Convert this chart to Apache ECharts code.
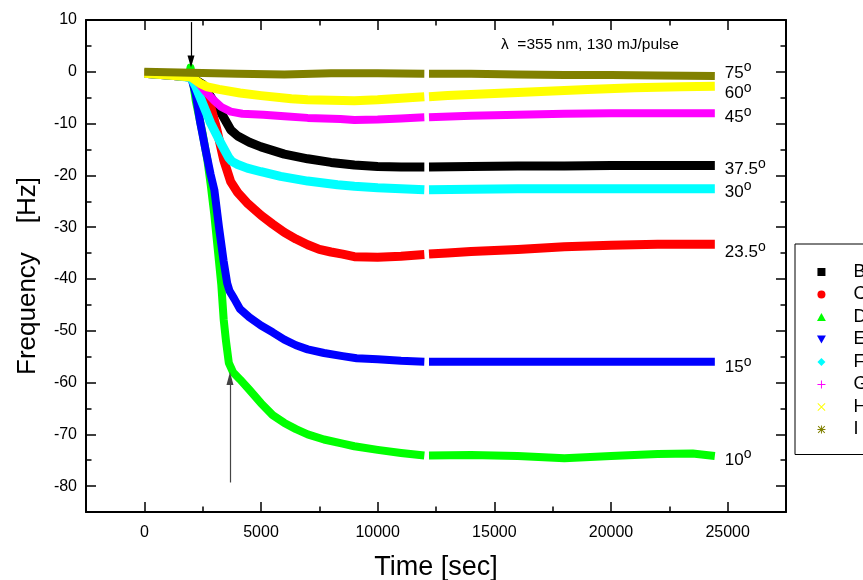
<!DOCTYPE html>
<html><head><meta charset="utf-8">
<script src="https://cdn.jsdelivr.net/npm/echarts@6/dist/echarts.min.js"></script>
<style>html,body{margin:0;padding:0;background:#fff}#c{width:863px;height:580px}</style>
</head><body><div id="c"></div>
<script>
// ---------- data ----------
const seriesNames = ['B','C','D','E','F','G','H','I'];
const angleLabels = ['37.5','23.5','10','15','30','45','60','75'];

const timeB = [0,1000,2000,2500,2840,3000,3300,3700,4000,4500,5000,6000,7000,8000,9000,10000,11000,12000,12100,12200,14000,16000,18000,20000,22000,24450];
const freqB = [-0.3,-0.6,-1.0,-2.4,-4.8,-6.0,-8.0,-11.2,-12.4,-13.6,-14.5,-15.9,-16.8,-17.5,-18.0,-18.3,-18.4,-18.4,'-',-18.4,-18.3,-18.2,-18.2,-18.1,-18.1,-18.1];

const timeC = [0,1000,2000,2500,2800,3100,3400,3700,4000,4400,5000,5500,6000,6500,7000,7500,8000,8500,9000,10000,11000,12000,12100,12200,13000,14000,16000,18000,20000,22000,24450];
const freqC = [-0.3,-0.6,-1.0,-3.5,-6.0,-11.0,-17.0,-21.2,-23.3,-25.3,-27.7,-29.4,-31.0,-32.3,-33.4,-34.3,-34.8,-35.2,-35.7,-35.8,-35.6,-35.3,'-',-35.2,-35.0,-34.7,-34.3,-33.8,-33.5,-33.3,-33.3];

const timeD = [0,1000,1900,1980,2060,2200,2500,2700,2850,3000,3150,3300,3400,3500,3620,3800,4100,4500,5000,5500,6000,6500,7000,7700,8500,9000,10000,11000,12000,12100,12200,14000,16000,18000,20000,22000,23500,24450];
const freqD = [-0.3,-0.6,-0.9,0.8,-1.2,-5.5,-12.0,-17.0,-22.0,-27.6,-34.4,-41.2,-47.8,-52.0,-56.2,-58.0,-59.4,-61.4,-64.0,-66.3,-67.8,-69.0,-70.0,-71.0,-71.8,-72.3,-73.0,-73.6,-74.1,'-',-74.1,-74.0,-74.2,-74.6,-74.2,-73.8,-73.7,-74.2];

const timeE = [0,1000,2000,2200,2400,2620,2840,3000,3200,3400,3550,3650,3850,4100,4500,5000,5500,6000,6500,7000,7700,8500,9100,10000,11000,12000,12100,12200,14000,16000,18000,20000,22000,24450];
const freqE = [-0.3,-0.6,-1.0,-4.2,-9.9,-15.0,-19.8,-22.8,-30.0,-36.6,-40.8,-42.3,-43.8,-45.8,-47.4,-49.0,-50.3,-51.7,-52.8,-53.6,-54.3,-54.9,-55.3,-55.5,-55.8,-56.0,'-',-56.0,-56.0,-56.0,-56.0,-56.0,-56.0,-56.0];

const timeF = [0,1000,2000,2200,2400,2840,3270,3620,3750,4000,4410,5000,5840,7000,8280,9000,10000,11000,12000,12100,12200,14000,16000,18000,20000,22000,24450];
const freqF = [-0.3,-0.6,-1.1,-2.8,-5.0,-9.9,-13.7,-16.6,-17.3,-17.9,-18.6,-19.3,-20.2,-21.1,-21.8,-22.1,-22.4,-22.6,-22.8,'-',-22.8,-22.7,-22.6,-22.6,-22.6,-22.6,-22.6];

const timeG = [0,1000,2000,2300,2620,3000,3300,3700,4200,5100,6000,7000,8400,9000,10000,11000,12000,12100,12200,14000,16000,18000,20000,22000,24450];
const freqG = [-0.3,-0.6,-1.0,-2.0,-3.8,-5.6,-6.8,-7.7,-8.1,-8.3,-8.6,-8.9,-9.1,-9.3,-9.2,-9.0,-8.8,'-',-8.8,-8.5,-8.3,-8.1,-8.0,-8.0,-8.0];

const timeH = [0,1000,2000,2400,2700,3200,4100,5000,6300,7000,8000,9000,10000,11000,12000,12100,12200,13000,15000,17000,19000,21000,23000,24450];
const freqH = [-0.3,-0.6,-1.0,-2.3,-2.9,-3.4,-4.1,-4.6,-5.2,-5.4,-5.5,-5.6,-5.4,-5.1,-4.8,'-',-4.8,-4.6,-4.2,-3.8,-3.4,-3.1,-2.9,-2.8];

const timeI = [0,1000,2000,4000,6000,8000,10000,12000,12100,12200,14000,16000,18000,20000,22000,24450];
const freqI = [0.0,-0.1,-0.2,-0.4,-0.5,-0.3,-0.3,-0.4,'-',-0.4,-0.4,-0.5,-0.6,-0.6,-0.7,-0.8];

// annotation arrows: [time, fromFreq, toFreq]
const arrowDown = [2000, 9.6, 2.0];
const arrowUp = [3670, -79.3, -59.2];
const annotationText = 'λ  =355 nm, 130 mJ/pulse';

// ---------- styles ----------
const icons = [
  'path://M0,0H10V10H0Z',
  'circle',
  'path://M5,0L10,9H0Z',
  'path://M0,0H10L5,9Z',
  'path://M5,0L10,5L5,10L0,5Z',
  'path://M4.4,0H5.6V4.4H10V5.6H5.6V10H4.4V5.6H0V4.4H4.4Z',
  'path://M0.8,0L5,4.2L9.2,0L10,0.8L5.8,5L10,9.2L9.2,10L5,5.8L0.8,10L0,9.2L4.2,5L0,0.8Z',
  'path://M4.4,0H5.6V4.4H10V5.6H5.6V10H4.4V5.6H0V4.4H4.4Z M1.2,0.4L5,4.2L8.8,0.4L9.6,1.2L5.8,5L9.6,8.8L8.8,9.6L5,5.8L1.2,9.6L0.4,8.8L4.2,5L0.4,1.2Z'
];
const colors = ['#000000','#ff0000','#00ff00','#0000ff','#00ffff','#ff00ff','#ffff00','#808000'];
const widths = [9,9,8,8,9,8,9,8];
const labelDy = [2,6,2,4,1,2,5,-5];

const times = [timeB,timeC,timeD,timeE,timeF,timeG,timeH,timeI];
const freqs = [freqB,freqC,freqD,freqE,freqF,freqG,freqH,freqI];

const FONT = "'Liberation Sans', Arial, sans-serif";

const series = seriesNames.map((name, i) => ({
  type: 'line', name,
  data: times[i].map((t, k) => [t, freqs[i][k]]),
  symbol: 'none', showSymbol: false, connectNulls: false,
  silent: true, animation: false,
  lineStyle: { color: colors[i], width: widths[i], join: 'round', cap: 'butt' },
  itemStyle: { color: colors[i] },
  endLabel: {
    show: true, distance: 10, offset: [0, labelDy[i]],
    formatter: '{n|' + angleLabels[i] + '}{d|o}',
    rich: {
      n: { fontSize: 17, lineHeight: 21, verticalAlign: 'bottom', color: '#000', fontFamily: FONT },
      d: { fontSize: 14, lineHeight: 10, verticalAlign: 'top', color: '#000', fontFamily: FONT }
    }
  }
}));
series[2].markLine = {
  silent: true, animation: false, label: { show: false },
  symbol: ['none', 'none'],
  data: [
    [ { coord: [arrowDown[0], arrowDown[1]], symbol: 'none', lineStyle: { color: '#000', width: 1.2 } },
      { coord: [arrowDown[0], arrowDown[2]], symbol: 'triangle', symbolSize: [7, 12] } ],
    [ { coord: [arrowUp[0], arrowUp[1]], symbol: 'none', lineStyle: { color: '#444', width: 1.2 } },
      { coord: [arrowUp[0], arrowUp[2]], symbol: 'triangle', symbolSize: [7, 13] } ]
  ],
  lineStyle: { type: 'solid', color: '#000', width: 1.2 },
  itemStyle: { color: '#000' }
};

const axisLineStyle = { color: '#000', width: 2 };
function xAx(pos, labels) {
  return {
    type: 'value', position: pos, min: -2500, max: 27500, splitNumber: 6,
    axisLine: { show: true, onZero: false, lineStyle: axisLineStyle },
    axisTick: { show: true, inside: true, length: 10, lineStyle: { color: '#000', width: 1.5 } },
    minorTick: { show: true, splitNumber: 2, length: 5.5, lineStyle: { color: '#000', width: 1.5 } },
    splitLine: { show: false },
    axisLabel: { show: labels, showMinLabel: false, showMaxLabel: false, margin: 13, color: '#000', fontSize: 16, fontFamily: FONT, formatter: v => String(v) },
    name: labels ? 'Time [sec]' : '', nameLocation: 'middle', nameGap: 42,
    nameTextStyle: { fontSize: 27, color: '#000', fontFamily: FONT }
  };
}
function yAx(pos, labels) {
  return {
    type: 'value', position: pos, min: -85, max: 10, splitNumber: 10,
    axisLine: { show: true, onZero: false, lineStyle: axisLineStyle },
    axisTick: { show: true, inside: true, length: 10, lineStyle: { color: '#000', width: 1.5 } },
    minorTick: { show: true, splitNumber: 2, length: 5.5, lineStyle: { color: '#000', width: 1.5 } },
    splitLine: { show: false },
    axisLabel: { show: labels, showMinLabel: false, margin: 9, color: '#000', fontSize: 16, fontFamily: FONT },
    name: labels ? 'Frequency    [Hz]' : '', nameLocation: 'middle', nameGap: 45,
    nameTextStyle: { fontSize: 26, color: '#000', fontFamily: FONT, padding: [0, 20, 0, 0] }
  };
}

const chart = echarts.init(document.getElementById('c'), null, { renderer: 'canvas' });
chart.setOption({
  backgroundColor: '#fff',
  animation: false,
  title: {
    text: annotationText, left: 501, top: 37, padding: 0,
    textStyle: { fontSize: 15.5, fontWeight: 'normal', color: '#000', fontFamily: FONT }
  },
  grid: { left: 86, top: 20, right: 77, bottom: 68, containLabel: false, outerBoundsMode: 'none' },
  xAxis: [xAx('bottom', true), xAx('top', false)],
  yAxis: [yAx('left', true), yAx('right', false)],
  legend: {
    orient: 'vertical', left: 795, top: 244, padding: [17, 0, 14, 22],
    itemWidth: 10, itemHeight: 8, itemGap: 0.5,
    borderColor: '#000', borderWidth: 1, borderRadius: 0, backgroundColor: '#fff',
    selectedMode: false,
    itemStyle: { borderWidth: 0 },
    textStyle: { fontSize: 18, lineHeight: 22, color: '#000', fontFamily: FONT, padding: [0, 0, 0, 22], width: 9, overflow: 'none' },
    data: seriesNames.map((n, i) => ({ name: n, icon: icons[i] }))
  },
  series
});
</script>
</body></html>
